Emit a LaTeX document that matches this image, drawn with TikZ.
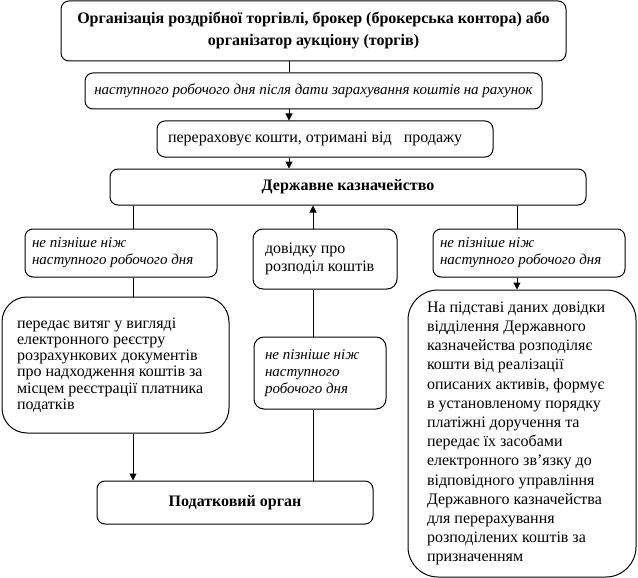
\documentclass[tikz,border=0pt]{standalone}
\usepackage{fontspec}
\setmainfont{Liberation Serif}
\usetikzlibrary{arrows.meta, positioning}

\begin{document}
\begin{tikzpicture}[x=1pt, y=-1pt, line width=1pt,
    box/.style={rectangle, draw, rounded corners=8pt, inner ysep=0pt, font=\fontsize{16}{17}\selectfont},
    note/.style={box, align=flush left, font=\fontsize{15}{17}\selectfont\itshape},
    arr/.style={-{Triangle[width=7pt, length=7pt]}}]

    \useasboundingbox (0,0) rectangle (638,578);

    % Top of the chain
    \node[box, font=\fontsize{16}{22}\selectfont\bfseries, align=center, minimum width=505pt, minimum height=60pt] (org) at (313.5,31) {Організація роздрібної торгівлі, брокер (брокерська контора) або\\організатор аукціону (торгів)};
    \node[box, font=\fontsize{15}{17}\selectfont\itshape, align=center, minimum width=457pt, minimum height=36pt] (pay) at (313.5,91) {наступного робочого дня після дати зарахування коштів на рахунок};
    \node[box, align=flush left, text width=314pt, inner xsep=11pt, minimum height=36pt] (transfer) at (325,139) {перераховує кошти, отримані від \ \ продажу};
    \node[box, font=\fontsize{16}{17}\selectfont\bfseries, minimum width=476pt, minimum height=36pt] (treasury) at (348,187) {Державне казначейство};

    % Deadlines and certificate
    \node[note, text width=178pt, inner xsep=7pt, minimum height=48pt] (noteL) at (121,253) {не пізніше ніж\\наступного робочого дня};
    \node[note, text width=178pt, inner xsep=7pt, minimum height=48pt] (noteR) at (529,253) {не пізніше ніж\\наступного робочого дня};
    \node[box, align=flush left, font=\fontsize{16}{18}\selectfont, text width=120pt, inner xsep=12pt, minimum height=60pt, rounded corners=10pt] (certif) at (325,259) {довідку про\\розподіл коштів};
    \node[note, text width=110pt, inner xsep=11pt, minimum height=72pt, rounded corners=10pt] (noteM) at (320,373) {не пізніше ніж\\наступного\\робочого дня};

    % Large boxes
    \node[box, align=flush left, font=\fontsize{16}{16.3}\selectfont, text width=197pt, inner xsep=15pt, minimum height=136pt, rounded corners=25pt] (extract) at (115.5,365) {передає витяг у вигляді\\електронного реєстру\\розрахункових документів\\про надходження коштів за\\місцем реєстрації платника\\податків};
    \node[box, align=flush left, font=\fontsize{16}{19.2}\selectfont, text width=190pt, inner xsep=19pt, minimum height=287pt, rounded corners=30pt] (distrib) at (522,433.5) {На підставі даних довідки\\відділення Державного\\казначейства розподіляє\\кошти від реалізації\\описаних активів, формує\\в установленому порядку\\платіжні доручення та\\передає їх засобами\\електронного зв'язку до\\відповідного управління\\Державного казначейства\\для перерахування\\розподілених коштів за\\призначенням};
    \node[box, font=\fontsize{16}{17}\selectfont\bfseries, minimum width=276pt, minimum height=43pt] (tax) at (235,502.5) {Податковий орган};

    % Connectors
    \coordinate (mainx) at (289,0);
    \coordinate (leftx) at (133,0);
    \coordinate (midx) at (313,0);
    \coordinate (rightx) at (517,0);

    \draw (org.south -| mainx) -- (pay.north -| mainx);
    \draw[arr] (pay.south -| mainx) -- (transfer.north -| mainx);
    \draw[arr] (transfer.south -| mainx) -- (treasury.north -| mainx);
    \draw (treasury.south -| leftx) -- (noteL.north -| leftx);
    \draw (noteL.south -| leftx) -- (extract.north -| leftx);
    \draw[arr] (extract.south -| leftx) -- (tax.north -| leftx);
    \draw (tax.north -| midx) -- (noteM.south -| midx);
    \draw (noteM.north -| midx) -- (certif.south -| midx);
    \draw[arr] (certif.north -| midx) -- (treasury.south -| midx);
    \draw (treasury.south -| rightx) -- (noteR.north -| rightx);
    \draw[arr] (noteR.south -| rightx) -- (distrib.north -| rightx);

\end{tikzpicture}
\end{document}
